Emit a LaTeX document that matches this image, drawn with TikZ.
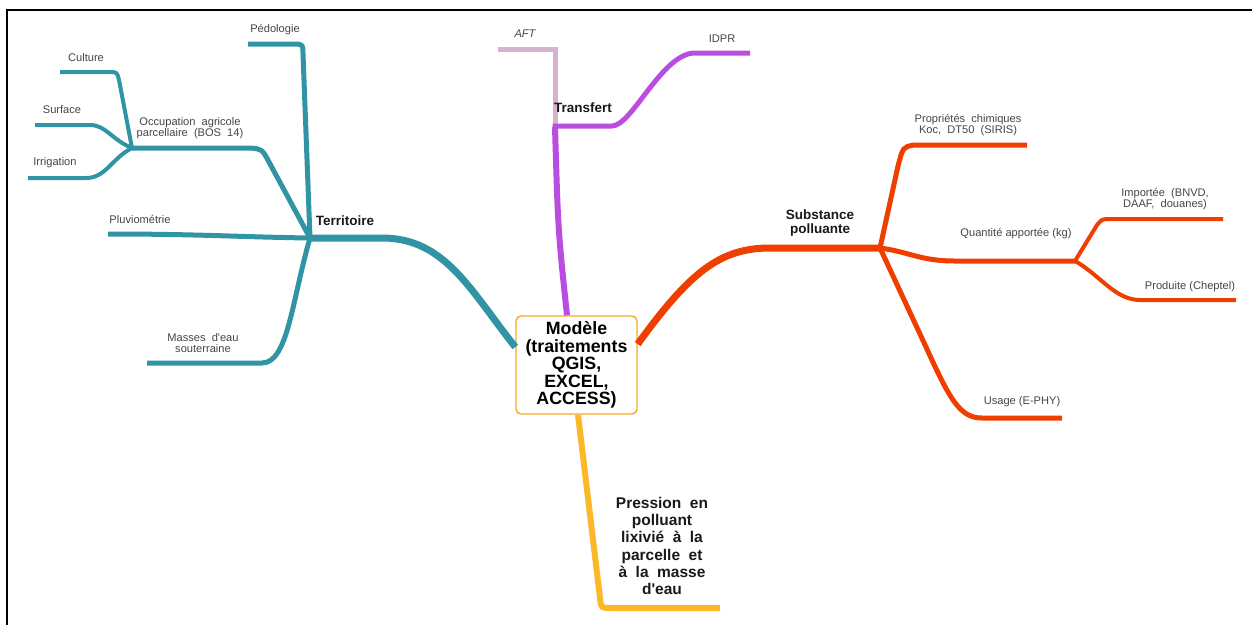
\documentclass[tikz,border=0pt]{standalone}
\usepackage{fontspec}
\setmainfont{Liberation Sans}
\usepackage{xcolor}
\usepackage{tikz}
\usetikzlibrary{arrows.meta,positioning}
\definecolor{terrc}{HTML}{3194A5}
\definecolor{tranc}{HTML}{BB4CE0}
\definecolor{aftc}{HTML}{D5B3CF}
\definecolor{substc}{HTML}{EE3F00}
\definecolor{pressc}{HTML}{FBB829}
\definecolor{modc}{HTML}{F9A825}
\definecolor{labc}{HTML}{454545}
\newcommand{\apos}{\textquotesingle}

\begin{document}
\begin{tikzpicture}[
    x=1pt, y=-1pt,
    leaf/.style={align=center, text=labc,
      font=\fontsize{11.1}{11.5}\selectfont, inner sep=0pt},
    wide/.style={execute at begin node={\spaceskip=0.55em plus 0.1em\relax}},
    hub/.style={align=center, text=black!90,
      font=\fontsize{13.5}{14.5}\selectfont\bfseries, inner sep=0pt},
    model/.style={draw=modc, line width=1.4pt, rounded corners=5pt, fill=white,
      align=center, minimum width=121pt, minimum height=98pt, inner sep=0pt,
      font=\fontsize{17.8}{17.6}\selectfont\bfseries},
    lvlA/.style={line width=7pt, line join=round},
    lvlB/.style={line width=5pt, line join=round},
    lvlC/.style={line width=4pt, line join=round}
  ]

  \useasboundingbox (0,0) rectangle (1252,625);
  \draw[line width=2.6pt] (7,625) -- (7,10) -- (1252,10);

  % --- centre
  \node[model] (mod) at (576.5,365)
    {Modèle\\(traitements\\QGIS,\\EXCEL,\\ACCESS)};

  % --- hubs and junctions
  \coordinate (terr) at (310,238);
  \coordinate (occ) at (132,148);
  \coordinate (trans) at (555,127);
  \coordinate (subst) at (880,248);
  \coordinate (quant) at (1075,261);

  % --- leaf ends
  \coordinate (pedo) at (248,44);
  \coordinate (cult) at (60,72);
  \coordinate (surf) at (35,125);
  \coordinate (irri) at (28,178);
  \coordinate (pluv) at (108,234);
  \coordinate (mass) at (147,363);
  \coordinate (aft) at (498,49);
  \coordinate (idpr) at (750,53);
  \coordinate (prop) at (1027,145);
  \coordinate (impo) at (1223,219);
  \coordinate (prod) at (1236,300);
  \coordinate (usag) at (1062,418);
  \coordinate (pres) at (720,608);

  % --- Territoire branch
  \draw[lvlA, terrc] (terr) -- (382,238) .. controls (445,238) and (470,290) .. (mod.west |- 0,347);
  \draw[lvlB, terrc] (terr) -- (303,54) .. controls (303,44) .. (293,44) -- (pedo);
  \draw[lvlB, terrc] (terr) -- (269,162) .. controls (262,149) .. (250,148) -- (occ);
  \draw[lvlC, terrc] (occ) -- (119,80) .. controls (117,72) .. (109,72) -- (cult);
  \draw[lvlC, terrc] (occ) .. controls (112,140) and (106,125) .. (90,125) -- (surf);
  \draw[lvlC, terrc] (occ) .. controls (112,158) and (106,178) .. (86,178) -- (irri);
  \draw[lvlB, terrc] (terr) .. controls (240,237) and (200,234) .. (pluv);
  \draw[lvlB, terrc] (terr) .. controls (292,300) and (288,363) .. (262,363) -- (mass);

  % --- Transfert branch
  \draw[lvlB, aftc, line join=miter] (trans) -- (555,49) -- (aft);
  \draw[line width=6pt, tranc] (mod.north -| 567,0) .. controls (558,230) .. (trans);
  \draw[lvlB, tranc] (552.5,126) -- (612,126) .. controls (632,126) and (662,53) .. (695,53) -- (idpr);

  % --- Substance branch
  \draw[lvlA, substc] (mod.east |- 0,344) .. controls (690,272) and (720,248) .. (770,248) -- (subst);
  \draw[lvlB, substc] (subst) -- (898,166) .. controls (903,147) .. (914,145) -- (prop);
  \draw[lvlB, substc] (subst) .. controls (910,252) and (920,261) .. (955,261) -- (quant);
  \draw[lvlC, substc] (quant) -- (1097,225) .. controls (1102,219) .. (1111,219) -- (impo);
  \draw[lvlC, substc] (quant) .. controls (1100,275) and (1115,300) .. (1140,300) -- (prod);
  \draw[lvlB, substc] (subst) -- (926,347) .. controls (950,400) and (960,418) .. (982,418) -- (usag);

  % --- Pression branch
  \draw[line width=6pt, pressc] (mod.south -| 578,0) -- (600,598) .. controls (601,608) .. (611,608) -- (pres);

  % --- labels
  \node[hub] (terrl) at (345,221) {Territoire};
  \node[hub] (transl) at (583,108) {Transfert};
  \node[hub] (substl) at (820,223) {Substance\\polluante};
  \node[hub, wide, font=\fontsize{15.5}{17.2}\selectfont\bfseries] (presl) at (662,546)
    {Pression en\\polluant\\lixivié à la\\parcelle et\\à la masse\\d\apos eau};

  \node[leaf] (pedol) at (275,30) {Pédologie};
  \node[leaf, wide] (occl) at (190,128) {Occupation agricole\\parcellaire (BOS 14)};
  \node[leaf] (cultl) at (86,58) {Culture};
  \node[leaf] (surfl) at (62,110) {Surface};
  \node[leaf] (irril) at (55,163) {Irrigation};
  \node[leaf] (pluvl) at (140,219) {Pluviométrie};
  \node[leaf, wide] (massl) at (203,343) {Masses d\apos eau\\souterraine};
  \node[leaf, font=\fontsize{11.1}{11.5}\selectfont\itshape] (aftl) at (525,34) {AFT};
  \node[leaf] (idprl) at (722,39) {IDPR};
  \node[leaf, wide] (propl) at (968,125) {Propriétés chimiques\\Koc, DT50 (SIRIS)};
  \node[leaf] (quantl) at (1016,234) {Quantité apportée (kg)};
  \node[leaf, wide] (impol) at (1165,199) {Importée (BNVD,\\DAAF, douanes)};
  \node[leaf] (prodl) at (1190,287) {Produite (Cheptel)};
  \node[leaf] (usagl) at (1022,402) {Usage (E-PHY)};

\end{tikzpicture}
\end{document}
